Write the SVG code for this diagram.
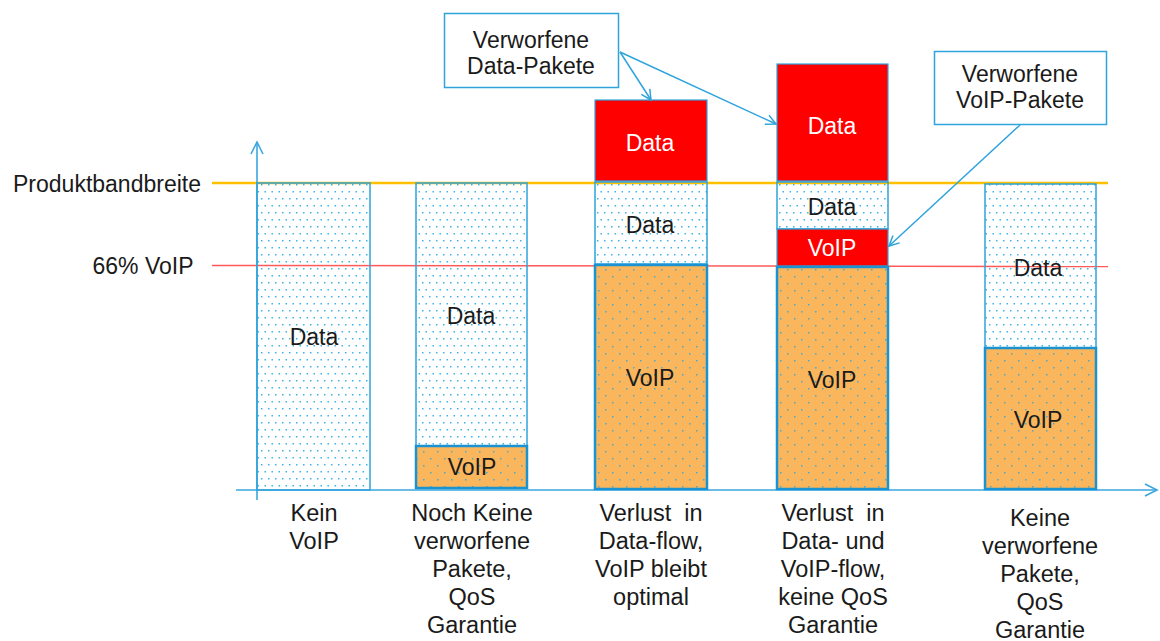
<svg xmlns="http://www.w3.org/2000/svg" width="1160" height="641" viewBox="0 0 1160 641">
<defs>
<pattern id="dots" x="0" y="0" width="7" height="14" patternUnits="userSpaceOnUse">
<rect x="2" y="2" width="1.5" height="1.5" fill="#3CB4EA"/>
<rect x="5.5" y="9" width="1.5" height="1.5" fill="#3CB4EA"/>
</pattern>
<pattern id="odots" x="0" y="0" width="14" height="14" patternUnits="userSpaceOnUse">
<rect width="14" height="14" fill="#FAB65C"/>
<rect x="3" y="3" width="1.5" height="1.5" fill="#4FA9C8"/>
<rect x="10" y="10" width="1.5" height="1.5" fill="#4FA9C8"/>
</pattern>
<marker id="arr" markerWidth="14" markerHeight="14" refX="11" refY="6" orient="auto" markerUnits="userSpaceOnUse">
<path d="M1,1 L11,6 L1,11" fill="none" stroke="#2FA3DC" stroke-width="1.5"/>
</marker>
<marker id="axarr" markerWidth="16" markerHeight="16" refX="13" refY="7" orient="auto" markerUnits="userSpaceOnUse">
<path d="M1,1 L13,7 L1,13" fill="none" stroke="#3AA6DF" stroke-width="1.6"/>
</marker>
</defs>
<style>
text{font-family:"Liberation Sans",Arial,sans-serif;font-size:23px;fill:#1a1a1a;text-anchor:middle}
.w{fill:#ffffff}
.lbl{font-size:23.5px}
.data{fill:url(#dots);stroke:#2FA3DC;stroke-width:1.5}
.voip{fill:url(#odots);stroke:#1B93D3;stroke-width:2.5}
.red{fill:#FF0000;stroke:#2FA3DC;stroke-width:1.2}
.box{fill:#ffffff;stroke:#2FA3DC;stroke-width:1.5}
.conn{stroke:#2FA3DC;stroke-width:1.5;fill:none}
</style>
<rect width="1160" height="641" fill="#ffffff"/>

<g id="axes">
<line x1="212" y1="183" x2="1108" y2="183" stroke="#FFC000" stroke-width="2.5"/>
<line x1="212" y1="265.5" x2="1108" y2="266.5" stroke="#FF5A5A" stroke-width="1.5"/>
<line x1="257" y1="500" x2="257" y2="142" stroke="#3AA6DF" stroke-width="1.6" marker-end="url(#axarr)"/>
<line x1="236" y1="490" x2="1157" y2="490" stroke="#3AA6DF" stroke-width="1.6" marker-end="url(#axarr)"/>
<text x="107" y="192">Produktbandbreite</text>
<text x="143" y="274">66% VoIP</text>
</g>

<g id="bar1">
<rect class="data" x="257" y="183" width="113" height="307"/>
<text x="314" y="345">Data</text>
<text class="lbl" x="314" y="521">Kein</text>
<text class="lbl" x="314" y="549">VoIP</text>
</g>

<g id="bar2">
<rect class="data" x="416" y="183" width="111" height="263"/>
<rect class="voip" x="416" y="446" width="111" height="42"/>
<text x="471" y="324">Data</text>
<text x="472" y="475">VoIP</text>
<text class="lbl" x="472" y="521">Noch Keine</text>
<text class="lbl" x="472" y="549">verworfene</text>
<text class="lbl" x="472" y="577">Pakete,</text>
<text class="lbl" x="472" y="605">QoS</text>
<text class="lbl" x="472" y="633">Garantie</text>
</g>

<g id="bar3">
<rect class="red" x="595" y="100" width="112" height="81"/>
<rect class="data" x="595" y="182" width="112" height="82"/>
<rect class="voip" x="595" y="265" width="112" height="224"/>
<text class="w" x="650" y="151">Data</text>
<text x="650" y="233">Data</text>
<text x="650" y="386">VoIP</text>
<text class="lbl" x="651" y="521" xml:space="preserve">Verlust  in</text>
<text class="lbl" x="651" y="549">Data-flow,</text>
<text class="lbl" x="651" y="577">VoIP bleibt</text>
<text class="lbl" x="651" y="605">optimal</text>
</g>

<g id="bar4">
<rect class="red" x="777" y="64" width="111" height="117"/>
<rect class="data" x="777" y="182" width="111" height="47"/>
<rect class="red" x="777" y="229" width="111" height="37"/>
<rect class="voip" x="777" y="267" width="111" height="222"/>
<text class="w" x="832" y="134">Data</text>
<text x="832" y="215">Data</text>
<text class="w" x="832" y="256">VoIP</text>
<text x="832" y="388">VoIP</text>
<text class="lbl" x="833" y="521" xml:space="preserve">Verlust  in</text>
<text class="lbl" x="833" y="549">Data- und</text>
<text class="lbl" x="833" y="577">VoIP-flow,</text>
<text class="lbl" x="833" y="605">keine QoS</text>
<text class="lbl" x="833" y="633">Garantie</text>
</g>

<g id="bar5">
<rect class="data" x="985" y="184" width="111" height="164"/>
<rect class="voip" x="985" y="348" width="111" height="141"/>
<text x="1038" y="276">Data</text>
<text x="1038" y="428">VoIP</text>
<text class="lbl" x="1040" y="526">Keine</text>
<text class="lbl" x="1040" y="554">verworfene</text>
<text class="lbl" x="1040" y="582">Pakete,</text>
<text class="lbl" x="1040" y="610">QoS</text>
<text class="lbl" x="1040" y="638">Garantie</text>
</g>

<g id="callout1">
<rect class="box" x="444.5" y="13.5" width="174" height="74"/>
<text x="531" y="48">Verworfene</text>
<text x="531" y="74">Data-Pakete</text>
</g>

<g id="callout2">
<rect class="box" x="934.5" y="51.5" width="172" height="73"/>
<text x="1020" y="82">Verworfene</text>
<text x="1020" y="108">VoIP-Pakete</text>
</g>

<g id="connectors">
<line class="conn" x1="620" y1="52" x2="651" y2="100" marker-end="url(#arr)"/>
<line class="conn" x1="620" y1="52" x2="776" y2="124" marker-end="url(#arr)"/>
<line class="conn" x1="1020" y1="125" x2="889" y2="246" marker-end="url(#arr)"/>
</g>
</svg>
